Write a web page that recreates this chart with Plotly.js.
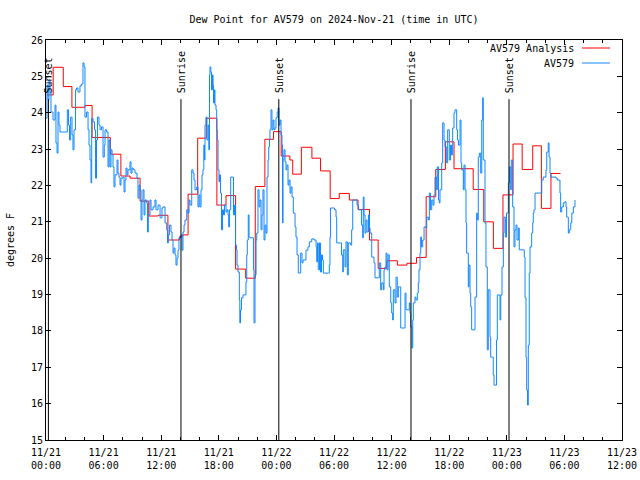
<!DOCTYPE html>
<html>
<head>
<meta charset="utf-8">
<script src="https://cdn.plot.ly/plotly-3.0.1.min.js"></script>
<style>html,body{margin:0;padding:0;background:#fff}#chart{width:640px;height:480px}</style>
</head>
<body>
<div id="chart"></div>
<script>
// Hours after 2024-11-21 00:00 UTC
const analysisHours = [0.1, 0.75, 1.8, 2.7, 4.06, 4.8, 6.7, 7.8, 8.75, 9.8, 10.7, 11.7, 12.7, 13.9, 14.2, 14.8, 15.8, 16.7, 17.8, 18.75, 19.75, 20.8, 21.8, 22.8, 23.7, 24.5, 25.4, 25.7, 26.6, 27.7, 28.6, 29.6, 30.55, 31.6, 32.5, 33.7, 34.6, 35.5, 36.6, 37.6, 38.6, 39.6, 40.6, 41.6, 42.5, 44.5, 45.6, 46.6, 47.6, 48.65, 49.6, 50.7, 51.6, 52.6, 53.6];
const analysisDew = [24.49, 25.25, 24.72, 24.15, 24.2, 23.32, 22.86, 22.26, 22.2, 21.57, 21.16, 21.18, 20.5, 20.59, 20.64, 21.76, 23.3, 23.85, 21.46, 21.72, 19.7, 19.45, 21.97, 23.27, 23.48, 22.81, 22.7, 22.31, 23.05, 22.75, 22.4, 21.64, 21.78, 21.6, 21.34, 20.5, 19.72, 19.93, 19.81, 19.86, 20.02, 21.69, 22.44, 23.2, 22.46, 21.89, 21.0, 20.27, 21.74, 23.14, 22.44, 23.09, 21.37, 22.33, 22.33];

const obsHours = [0.00,0.10,0.21,0.31,0.42,0.52,0.73,0.94,1.04,1.15,1.25,1.35,1.46,2.16,2.22,2.34,2.45,2.57,2.71,2.81,2.92,3.07,3.18,3.33,3.54,3.70,3.85,3.96,4.06,4.22,4.38,4.48,4.58,4.69,4.76,4.90,5.05,5.16,5.26,5.36,5.52,5.63,5.78,5.94,6.07,6.15,6.32,6.46,6.56,6.67,6.77,6.88,6.98,7.08,7.19,7.40,7.50,7.60,7.71,7.81,8.02,8.13,8.23,8.33,8.44,8.54,8.75,8.85,8.96,9.09,9.27,9.48,9.58,9.69,9.79,9.90,10.00,10.10,10.21,10.31,10.49,10.57,10.66,10.83,10.94,11.15,11.35,11.46,11.67,11.88,12.08,12.19,12.40,12.57,12.66,12.74,12.86,13.02,13.13,13.23,13.33,13.44,13.54,13.65,13.75,13.85,14.06,14.17,14.27,14.38,14.48,14.66,14.79,14.90,15.00,15.18,15.31,15.42,15.52,15.70,15.83,
15.94,16.04,16.15,16.25,16.35,16.44,16.51,16.56,16.67,16.77,16.88,16.96,17.03,17.08,17.17,17.24,17.34,17.40,17.45,17.55,17.60,17.71,17.78,17.84,17.92,18.02,18.07,18.18,18.28,18.39,18.49,18.59,18.75,18.85,18.96,19.03,19.11,19.24,19.48,19.53,19.64,19.74,19.84,19.90,20.00,20.14,20.19,20.26,20.36,20.52,20.73,20.83,20.91,20.97,21.07,21.15,21.25,21.56,21.61,21.67,21.77,21.88,21.95,22.08,22.19,22.29,22.40,22.50,22.60,22.71,22.81,22.92,23.02,23.13,23.20,23.28,23.33,23.44,23.54,23.65,23.75,23.85,23.96,24.09,24.17,24.27,24.38,24.48,24.58,24.64,24.69,24.79,24.90,25.00,25.10,25.21,25.31,25.42,25.52,25.63,25.76,25.94,26.04,26.15,26.28,26.46,26.53,26.67,26.77,26.98,27.08,27.29,27.43,27.68,27.92,28.13,28.20,28.28,28.36,28.49,28.59,28.70,28.80,28.89,29.41,29.51,29.58,29.64,29.93,30.05,30.21,30.28,30.70,30.78,30.91,30.97,31.15,31.25,31.39,31.49,31.74,31.84,31.95,32.29,32.40,32.55,32.71,32.86,32.99,33.05,33.13,33.23,33.33,33.44,33.59,33.70,33.75,33.93,34.06,34.17,34.27,34.61,34.72,34.86,34.97,35.14,35.21,35.31,35.42,35.52,35.63,35.76,35.91,36.01,36.11,36.18,36.35,36.46,36.59,36.70,36.95,37.29,37.40,37.50,37.74,37.84,37.92,37.99,38.13,38.20,38.26,38.44,38.54,38.68,38.78,38.85,38.96,39.03,39.11,39.24,39.38,39.58,39.66,39.82,39.93,40.05,40.18,40.31,40.42,40.52,40.70,40.76,40.89,40.97,41.04,41.22,41.32,41.46,41.56,41.74,41.84,42.01,42.14,42.24,42.36,42.50,42.60,42.78,42.86,42.97,43.13,43.23,43.30,43.47,43.54,43.65,43.75,43.82,43.99,44.06,44.17,44.24,44.34,44.58,44.69,44.86,44.93,45.03,45.14,45.28,45.39,45.49,45.55,45.73,45.83,45.97,46.07,46.25,46.32,46.53,46.59,46.67,46.88,46.93,47.01,47.22,47.29,47.37,47.50,47.64,47.71,47.85,47.97,48.16,48.26,48.41,48.47,48.61,48.75,48.85,48.96,49.06,49.20,49.30,49.38,49.82,49.90,50.00,50.07,50.16,50.24,50.34,50.42,50.59,50.70,50.76,50.83,50.94,51.53,51.64,51.80,52.08,52.16,52.32,52.40,52.50,52.57,53.13,53.26,53.47,53.54,53.61,53.72,53.89,54.06,54.17,54.24,54.41,54.51,54.66,54.77,54.93,55.10];
const obsDew = [23.85,24.76,24.35,24.90,24.54,24.02,23.80,24.21,23.17,22.89,24.02,23.66,23.47,23.47,24.08,23.66,23.25,23.88,23.39,22.98,23.53,24.63,24.68,24.57,24.74,24.79,25.37,25.26,23.88,24.02,23.53,23.11,22.70,22.07,23.85,23.75,23.53,22.20,23.25,23.88,23.66,23.53,23.61,22.78,23.11,23.53,23.47,22.51,23.25,22.51,22.98,22.84,22.51,21.96,22.29,22.70,22.34,22.23,22.01,22.20,22.23,21.82,22.15,22.48,22.29,22.43,22.65,22.34,22.48,22.43,22.34,22.20,21.65,22.01,21.88,21.05,21.60,21.88,21.19,21.60,21.52,20.72,21.19,21.60,21.33,21.41,21.60,21.33,21.46,21.11,21.38,21.41,20.97,20.78,20.42,20.64,20.91,20.72,20.50,20.14,20.28,20.09,19.81,20.00,20.22,20.56,20.64,20.22,20.72,20.91,21.05,21.33,21.24,21.60,21.46,22.43,22.34,22.15,21.88,21.96,21.41,
21.74,21.41,21.88,22.29,22.43,23.11,22.70,23.66,23.88,23.25,23.66,22.98,25.04,25.26,25.12,24.63,25.04,24.76,24.27,24.63,24.21,24.08,23.53,23.25,22.43,22.10,22.29,21.79,20.78,21.33,21.19,21.46,21.27,21.33,21.19,20.86,21.33,22.23,22.23,21.19,21.46,20.36,20.23,19.81,19.62,18.85,18.22,18.58,18.91,18.99,18.99,19.35,20.09,20.50,21.19,20.58,20.56,20.56,19.68,18.22,19.54,20.50,20.69,21.88,21.41,21.60,20.78,21.19,21.88,20.50,20.91,20.69,22.23,22.70,23.06,23.25,23.53,24.08,23.53,23.80,23.53,23.58,23.86,24.02,24.13,23.66,23.80,23.39,23.11,20.97,22.70,22.98,22.65,22.43,22.56,22.01,22.15,21.79,21.96,21.68,21.24,20.86,20.58,20.09,19.59,19.59,20.14,19.87,19.95,19.95,20.22,20.31,20.45,20.53,20.50,20.31,19.90,20.42,19.68,20.42,19.62,20.09,19.95,19.59,19.59,19.81,20.58,21.38,21.38,21.33,21.13,20.42,20.42,20.09,19.62,20.23,19.76,20.45,19.54,20.42,20.36,20.78,21.60,21.60,21.46,21.33,21.33,20.91,20.56,21.68,21.19,20.69,21.05,20.72,21.19,20.83,20.69,20.03,20.03,19.87,19.46,19.46,19.87,19.13,19.32,19.13,19.68,19.76,20.14,19.68,20.09,19.21,18.77,18.49,18.30,19.13,18.77,19.48,18.93,19.21,18.08,18.08,19.04,18.58,18.58,18.77,18.49,18.11,17.53,18.30,18.77,18.93,18.85,19.04,19.32,19.68,20.14,20.58,20.31,20.50,20.86,20.83,21.13,21.05,21.79,21.33,21.60,21.46,21.74,22.23,21.88,22.51,21.60,21.52,21.88,22.62,23.72,23.25,23.06,22.62,23.53,22.70,23.11,22.84,23.58,24.00,24.08,23.53,23.25,23.11,23.80,22.62,22.43,21.88,22.56,21.88,20.97,20.14,19.21,19.81,19.04,18.66,18.03,18.03,18.93,21.24,21.05,22.78,22.89,22.34,23.80,24.41,22.70,20.97,19.76,17.48,19.13,17.83,17.28,17.28,16.79,16.51,16.51,17.75,18.99,18.99,18.30,18.99,19.76,20.69,21.13,20.58,21.24,22.07,22.51,21.88,22.70,21.41,20.31,20.78,20.91,20.50,20.83,20.23,20.23,20.03,18.91,17.28,16.38,15.96,17.61,19.59,20.31,20.69,20.97,21.24,21.33,21.79,21.79,22.15,22.23,22.43,22.92,23.17,22.78,22.34,22.23,22.20,22.15,22.15,21.79,21.27,21.41,21.52,21.55,21.41,21.13,20.69,20.78,20.97,21.24,21.41,21.60];

const eventHours = [0.25, 14.06, 24.25, 38.02, 48.23];
const eventLabels = ['Sunset', 'Sunrise', 'Sunset', 'Sunrise', 'Sunset'];
const seriesNames = ['AV579 Analysis', 'AV579'];
const yTicks = [15,16,17,18,19,20,21,22,23,24,25,26];

const BASE = Date.UTC(2024, 10, 21, 0, 0, 0);
const toDate = h => {
  const d = new Date(BASE + h * 3600000);
  return d.toISOString().slice(0, 19).replace('T', ' ');
};

const FONT = 'DejaVu Sans Mono, monospace';
const RED = '#ff0000';
const BLUE = '#1188ff';

const traces = [
  {x: analysisHours.map(toDate), y: analysisDew, type: 'scatter', mode: 'lines',
   name: seriesNames[0], line: {color: RED, width: 1, shape: 'hv'}, showlegend: false},
  {x: obsHours.map(toDate), y: obsDew, type: 'scatter', mode: 'lines',
   name: seriesNames[1], line: {color: BLUE, width: 1, shape: 'hv'}, showlegend: false}
];

const shapes = eventHours.map(h => ({
  type: 'line', xref: 'x', yref: 'paper', x0: toDate(h), x1: toDate(h), y0: 0, y1: 0.852,
  line: {color: '#000', width: 1}
}));
const annotations = eventHours.map((h, i) => ({
  x: toDate(h), xref: 'x', y: 0.862, yref: 'paper', text: eventLabels[i],
  textangle: -90, showarrow: false, xanchor: 'center', yanchor: 'bottom',
  font: {family: FONT, size: 10, color: '#000'}
}));
// gnuplot-style legend (text, then sample line)
const legendY = [0.98, 0.9425];
const legendColors = [RED, BLUE];
seriesNames.forEach((n, i) => {
  annotations.push({x: 0.921, xref: 'paper', y: legendY[i], yref: 'paper', text: n,
    showarrow: false, xanchor: 'right', yanchor: 'middle',
    font: {family: FONT, size: 10, color: '#000'}});
  shapes.push({type: 'line', xref: 'paper', yref: 'paper', x0: 0.9306, x1: 0.979,
    y0: legendY[i], y1: legendY[i], line: {color: legendColors[i], width: 1}});
});

const layout = {
  width: 640, height: 480,
  margin: {l: 46, r: 18, t: 40, b: 40, pad: 0},
  paper_bgcolor: '#fff', plot_bgcolor: '#fff',
  font: {family: FONT, size: 10, color: '#000'},
  title: {text: 'Dew Point for AV579 on 2024-Nov-21 (time in UTC)', x: 0.5, xref: 'paper',
          y: 0.96, yref: 'container', yanchor: 'middle', font: {family: FONT, size: 10, color: '#000'}},
  xaxis: {
    type: 'date', range: ['2024-11-21 00:00:00', '2024-11-23 12:00:00'],
    tick0: '2024-11-21 00:00:00', dtick: 21600000, tickformat: '%m/%d<br>%H:%M',
    ticks: 'inside', ticklen: 5, tickcolor: '#000', tickwidth: 1, ticklabelstandoff: 3,
    minor: {dtick: 7200000, ticks: 'inside', ticklen: 3, tickcolor: '#000', tickwidth: 1, showgrid: false},
    showline: true, linecolor: '#000', linewidth: 1, mirror: 'allticks',
    showgrid: false, zeroline: false, automargin: false,
    tickfont: {family: FONT, size: 10, color: '#000'}
  },
  yaxis: {
    range: [15, 26], tickvals: yTicks, ticktext: yTicks.map(String),
    ticks: 'inside', ticklen: 5, tickcolor: '#000', tickwidth: 1,
    showline: true, linecolor: '#000', linewidth: 1, mirror: 'allticks',
    showgrid: false, zeroline: false, automargin: false,
    title: {text: 'degrees F', standoff: 14, font: {family: FONT, size: 10, color: '#000'}},
    tickfont: {family: FONT, size: 10, color: '#000'}
  },
  shapes: shapes,
  annotations: annotations,
  showlegend: false
};

Plotly.newPlot('chart', traces, layout, {staticPlot: true, displayModeBar: false});
</script>
</body>
</html>
